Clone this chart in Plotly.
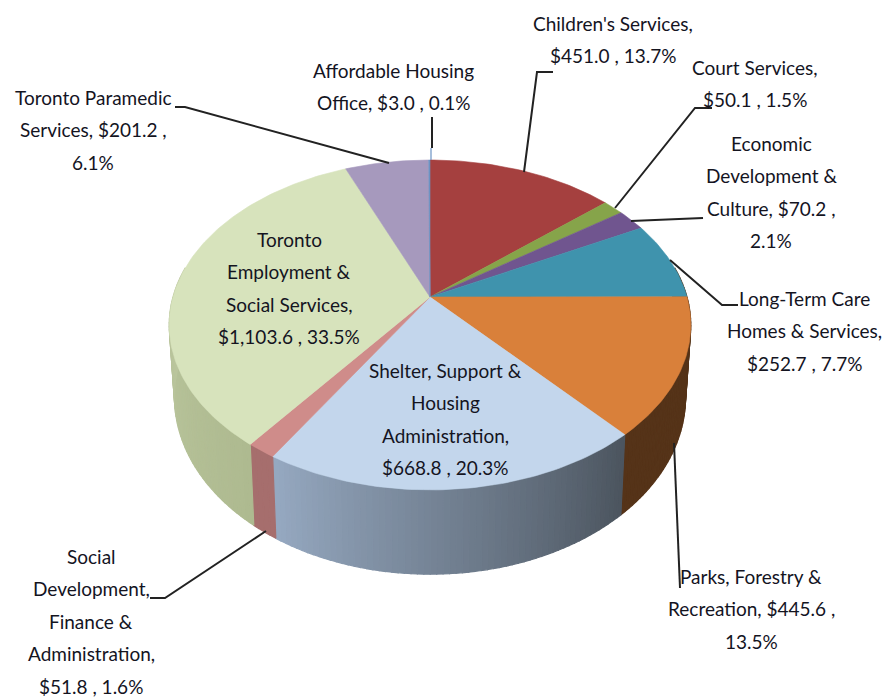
import math
import plotly.graph_objects as go

# --- data ---
categories = ["Children's Services", "Court Services", "Economic Development & Culture",
              "Long-Term Care Homes & Services", "Parks, Forestry & Recreation",
              "Shelter, Support & Housing Administration",
              "Social Development, Finance & Administration",
              "Toronto Employment & Social Services", "Toronto Paramedic Services",
              "Affordable Housing Office"]
values = [451.0, 50.1, 70.2, 252.7, 445.6, 668.8, 51.8, 1103.6, 201.2, 3.0]
top_colors = ["#A5403F", "#86A44A", "#70558F", "#3F93AD", "#D9803A",
              "#C3D6EC", "#CF8C8A", "#D7E3BC", "#A699BD", "#6C93C4"]
side_left = ["#6E2A2A", "#5A6D31", "#4A385F", "#2A6273", "#553318",
             "#96A9C1", "#A66E6D", "#BDC8A0", "#6E6680", "#486282"]
side_right = ["#6E2A2A", "#5A6D31", "#4A385F", "#2A6273", "#553318",
              "#4B545E", "#A66E6D", "#AEBA90", "#6E6680", "#486282"]
label_lines = [
    ["Children's Services,", "$451.0 , 13.7%"],
    ["Court Services,", "$50.1 , 1.5%"],
    ["Economic", "Development &", "Culture, $70.2 ,", "2.1%"],
    ["Long-Term Care", "Homes & Services,", "$252.7 , 7.7%"],
    ["Parks, Forestry &", "Recreation, $445.6 ,", "13.5%"],
    ["Shelter, Support &", "Housing", "Administration,", "$668.8 , 20.3%"],
    ["Social", "Development,", "Finance &", "Administration,", "$51.8 , 1.6%"],
    ["Toronto", "Employment &", "Social Services,", "$1,103.6 , 33.5%"],
    ["Toronto Paramedic", "Services, $201.2 ,", "6.1%"],
    ["Affordable Housing", "Office, $3.0 , 0.1%"],
]
# --- layout of the labels and leader lines, in page pixels ---
label_x = [613, 755, 771, 804, 751, 445, 91, 289, 93, 393]
label_y = [23, 67, 143, 298, 576, 370, 556, 239, 97, 70]
line_step = 32.5
leaders = [
    [(524, 172), (537, 72), (553, 72)],
    [(615, 208), (695, 108), (712, 108)],
    [(631, 221), (703, 218)],
    [(670, 260), (722, 305), (738, 305)],
    [(674, 443), (680, 588)],
    None,
    [(266, 531), (165, 598), (150, 598)],
    None,
    [(389, 163), (185, 107), (175, 107)],
    [(432, 117), (432, 148)],
]

# --- projection of the disc ---
CX, CY, RX, RY, K = 430, 297, 257, 160.2, 0.1695
DEPTH, SHRINK = 70, 0.98


def rim(turn, r=1.0):
    t = 2 * math.pi * turn
    u, v = r * math.sin(t), -r * math.cos(t)
    s = 1 / (1 - K * v)
    return RX * u * s, RY * v * s, s


def top_point(turn):
    x, y, _ = rim(turn)
    return CX + x, CY + y


def bottom_point(turn):
    x, y, s = rim(turn)
    return CX + x * SHRINK, CY + y + DEPTH * s


def mix(c1, c2, f):
    a = [int(c1[i:i + 2], 16) for i in (1, 3, 5)]
    b = [int(c2[i:i + 2], 16) for i in (1, 3, 5)]
    return "rgb(%d,%d,%d)" % tuple(round(p + (q - p) * f) for p, q in zip(a, b))


total = sum(values)
edges = [0.0]
for v in values:
    edges.append(edges[-1] + v / total)

fig = go.Figure()
VIS0, VIS1 = 0.25, 0.75

# side wall
for i, name in enumerate(categories):
    a, b = max(edges[i], VIS0), min(edges[i + 1], VIS1)
    if b <= a:
        continue
    # start the first wall a little earlier and end the last a little later, for the silhouette
    if a == VIS0:
        a = 0.22
    if b == VIS1:
        b = 0.78
    n = max(2, int((b - a) * 300))
    for j in range(n):
        t0, t1 = a + (b - a) * j / n, a + (b - a) * (j + 1) / n
        p = [top_point(t0), top_point(t1), bottom_point(t1), bottom_point(t0), top_point(t0)]
        # shelter runs light at its left end (later turn), dark at its right end
        f = 1 - (j + 0.5) / n
        col = mix(side_left[i], side_right[i], f)
        fig.add_trace(go.Scatter(x=[q[0] for q in p], y=[q[1] for q in p], mode="lines",
                                 fill="toself", fillcolor=col, line=dict(width=1.2, color=col),
                                 hoverinfo="skip", showlegend=False))

# top face
for i, name in enumerate(categories):
    a, b = edges[i], edges[i + 1]
    n = max(2, int((b - a) * 360))
    pts = [top_point(a + (b - a) * j / n) for j in range(n + 1)]
    xs = [CX] + [q[0] for q in pts] + [CX]
    ys = [CY] + [q[1] for q in pts] + [CY]
    fig.add_trace(go.Scatter(x=xs, y=ys, mode="lines", fill="toself", fillcolor=top_colors[i],
                             line=dict(width=0.6, color=top_colors[i]), name=name,
                             hoverinfo="name", showlegend=False))

# leader lines
for seg in leaders:
    if seg:
        fig.add_trace(go.Scatter(x=[q[0] for q in seg], y=[q[1] for q in seg], mode="lines",
                                 line=dict(color="#222222", width=2), hoverinfo="skip",
                                 showlegend=False))
fig.add_trace(go.Scatter(x=[431, 431], y=[148, 160], mode="lines",
                         line=dict(color="#6C93C4", width=1.2), hoverinfo="skip", showlegend=False))

# labels
annotations = []
for lines, lx, ly in zip(label_lines, label_x, label_y):
    for k, text in enumerate(lines):
        annotations.append(dict(x=lx, y=ly + k * line_step, text=text, showarrow=False,
                                xanchor="center", yanchor="middle",
                                font=dict(family="Lato", size=19, color="#14141f")))

fig.update_layout(
    width=884, height=700, margin=dict(l=0, r=0, t=0, b=0),
    paper_bgcolor="white", plot_bgcolor="white", showlegend=False,
    xaxis=dict(range=[0, 884], visible=False, fixedrange=True),
    yaxis=dict(range=[700, 0], visible=False, fixedrange=True),
    annotations=annotations,
)
fig.write_html("out.html", config={"displayModeBar": False},
               post_script="document.body.style.margin='0';")
